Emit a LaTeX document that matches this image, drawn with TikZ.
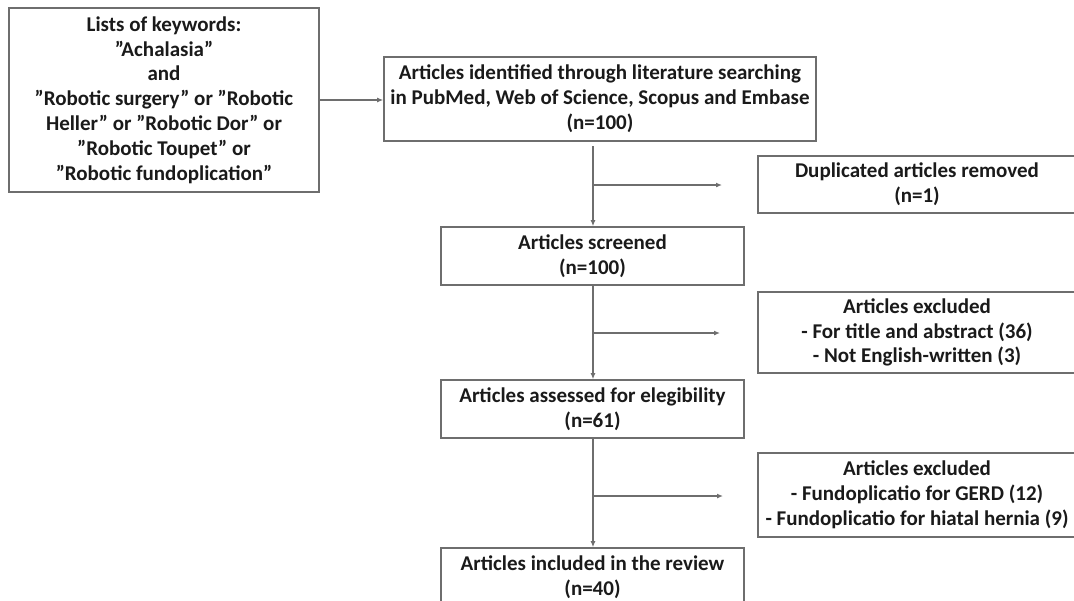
\documentclass[tikz,border=0pt]{standalone}
\usepackage{fontspec}
\setmainfont{Carlito}
\usetikzlibrary{arrows.meta}
\definecolor{linegray}{HTML}{6E6E6E}
\definecolor{txt}{HTML}{1A1A1A}
\tikzset{
  box/.style={draw=linegray, line width=1.6pt, align=center, inner sep=0pt,
    text=txt, font=\bfseries\fontsize{21}{24.8}\selectfont},
  arr/.style={draw=linegray, line width=1.4pt, -{Latex[length=6pt,width=5pt]}},
  ln/.style={draw=linegray, line width=1.4pt}
}
\begin{document}
\begin{tikzpicture}[x=1pt,y=-1pt]
\clip (0,0) rectangle (1074,600);
\fill[white] (0,0) rectangle (1074,600);

\node[box, minimum width=310pt, minimum height=184pt] (kw) at (164,100)
  {Lists of keywords:\\”Achalasia”\\and\\”Robotic surgery” or ”Robotic\\Heller” or ”Robotic Dor” or\\”Robotic Toupet” or\\”Robotic fundoplication”};
\node[box, minimum width=432pt, minimum height=84pt] (id) at (600,99)
  {Articles identified through literature searching\\in PubMed, Web of Science, Scopus and Embase\\(n=100)};
\node[box, minimum width=318pt, minimum height=57pt] (dup) at (917,184.5)
  {Duplicated articles removed\\(n=1)};
\node[box, minimum width=303pt, minimum height=58pt] (scr) at (592.5,256)
  {Articles screened\\(n=100)};
\node[box, minimum width=318pt, minimum height=81pt] (ex1) at (917,332.5)
  {Articles excluded\\- For title and abstract (36)\\- Not English-written (3)};
\node[box, minimum width=303pt, minimum height=58pt] (ass) at (592.5,409)
  {Articles assessed for elegibility\\(n=61)};
\node[box, minimum width=318pt, minimum height=84pt] (ex2) at (917,495)
  {Articles excluded\\- Fundoplicatio for GERD (12)\\- Fundoplicatio for hiatal hernia (9)};
\node[box, minimum width=303pt, minimum height=58pt] (inc) at (592.5,577)
  {Articles included in the review\\(n=40)};

\coordinate (t1) at (593,146);
\coordinate (b1) at (593,185);
\coordinate (e1) at (722,185);
\coordinate (t2) at (593,285);
\coordinate (b2) at (593,333);
\coordinate (e2) at (720,333);
\coordinate (t3) at (593,438);
\coordinate (b3) at (593,496);
\coordinate (e3) at (723,496);

\draw[arr] (kw.east) -- (kw.east -| id.west);
\draw[arr] (t1) -- (t1 |- scr.north);
\draw[arr] (b1) -- (e1);
\draw[arr] (t2) -- (t2 |- ass.north);
\draw[arr] (b2) -- (e2);
\draw[arr] (t3) -- (t3 |- inc.north);
\draw[arr] (b3) -- (e3);
\end{tikzpicture}
\end{document}
